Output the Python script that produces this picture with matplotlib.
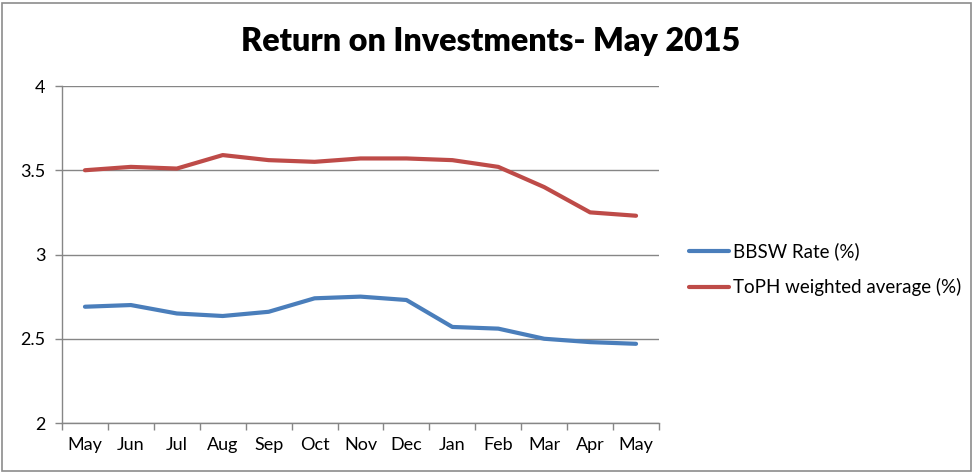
import matplotlib
matplotlib.use("Agg")
import matplotlib.pyplot as plt
from matplotlib.patches import Rectangle
from matplotlib.lines import Line2D

months = ["May", "Jun", "Jul", "Aug", "Sep", "Oct", "Nov", "Dec", "Jan", "Feb", "Mar", "Apr", "May"]
bbsw = [2.69, 2.70, 2.65, 2.635, 2.66, 2.74, 2.75, 2.73, 2.57, 2.56, 2.50, 2.48, 2.47]
toph = [3.50, 3.52, 3.51, 3.59, 3.56, 3.55, 3.57, 3.57, 3.56, 3.52, 3.40, 3.25, 3.23]
yticks = [2, 2.5, 3, 3.5, 4]
ytick_labels = ["2", "2.5", "3", "3.5", "4"]
series_names = ["BBSW Rate (%)", "ToPH weighted average (%)"]

plt.rcParams['font.family'] = ['Lato', 'DejaVu Sans']

W, H = 974, 473
fig = plt.figure(figsize=(W / 100, H / 100), dpi=100)
fig.patch.set_facecolor("white")

# outer chart border
fig.patches.append(Rectangle((2 / W, 2 / H), (W - 5) / W, (H - 5) / H, transform=fig.transFigure,
                             fill=False, edgecolor="#8c8c8c", linewidth=1.2))

left, right, top, bottom = 62, 659, 86, 423
ax = fig.add_axes([left / W, 1 - bottom / H, (right - left) / W, (bottom - top) / H])

x = list(range(len(months)))
blue = "#4A7EBB"
red = "#BE4B48"
ax.plot(x, bbsw, color=blue, lw=3.0, solid_capstyle="round", solid_joinstyle="round")
ax.plot(x, toph, color=red, lw=3.0, solid_capstyle="round", solid_joinstyle="round")

ax.set_xlim(-0.5, len(months) - 0.5)
ax.set_ylim(2, 4)
ax.set_yticks(yticks)
ax.set_yticklabels(ytick_labels)
ax.set_xticks(x)
ax.set_xticklabels(months)
ax.set_xticks([i - 0.5 for i in range(len(months) + 1)], minor=True)
ax.tick_params(axis="x", which="major", length=0, pad=10, labelsize=13)
ax.tick_params(axis="x", which="minor", length=5, color="#868686", width=1)
ax.tick_params(axis="y", length=5, color="#868686", width=1, pad=7, labelsize=13)

ax.grid(axis="y", color="#868686", lw=1)
ax.set_axisbelow(True)
for s in ["top", "right"]:
    ax.spines[s].set_visible(False)
for s in ["left", "bottom"]:
    ax.spines[s].set_color("#868686")
    ax.spines[s].set_linewidth(1)

fig.text(491 / W, 1 - 42 / H, "Return on Investments- May 2015", ha="center", va="center",
         fontsize=23.2, fontweight="heavy")

# legend (placed manually)
for i, (name, col) in enumerate(zip(series_names, [blue, red])):
    yy = 1 - (251 + 36 * i) / H
    fig.lines.append(Line2D([689 / W, 729 / W], [yy, yy], transform=fig.transFigure,
                            color=col, lw=3.0, solid_capstyle="round"))
    fig.text(733 / W, yy, name, ha="left", va="center", fontsize=13.5)

fig.savefig("out.png", dpi=100)
